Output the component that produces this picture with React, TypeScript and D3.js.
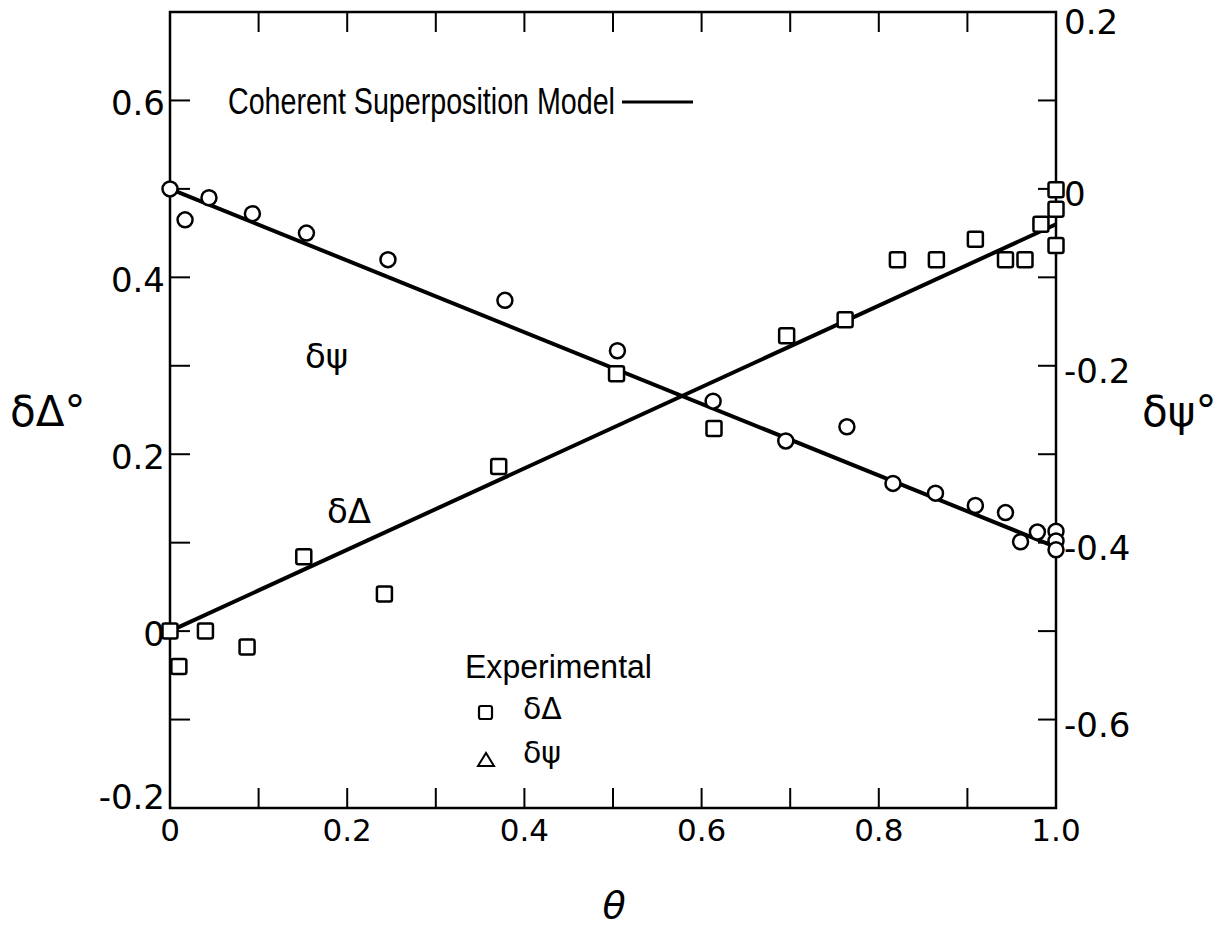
import React, { useRef, useEffect } from "react";
import * as d3 from "d3";

// delta-psi readings (right axis), circles
const psiTheta = [0, 0.017, 0.044, 0.093, 0.154, 0.246, 0.378, 0.505, 0.613, 0.695, 0.764, 0.816, 0.864, 0.909, 0.943, 0.96, 0.979, 1.0, 1.0, 1.0];
const psiValues = [0, -0.035, -0.01, -0.028, -0.05, -0.08, -0.126, -0.183, -0.24, -0.285, -0.269, -0.333, -0.344, -0.358, -0.366, -0.399, -0.388, -0.387, -0.398, -0.408];

// delta-Delta readings (left axis), squares
const deltaTheta = [0, 0.01, 0.04, 0.087, 0.151, 0.242, 0.371, 0.504, 0.614, 0.696, 0.762, 0.821, 0.865, 0.909, 0.943, 0.965, 0.983, 1.0, 1.0, 1.0];
const deltaValues = [0, -0.04, 0, -0.018, 0.084, 0.042, 0.186, 0.291, 0.229, 0.334, 0.352, 0.42, 0.42, 0.443, 0.42, 0.42, 0.46, 0.499, 0.477, 0.436];

// coherent superposition model (straight lines)
const modelTheta = [0, 1];
const modelDelta = [0, 0.46];
const modelPsi = [0, -0.405];

const xTicks = [0, 0.2, 0.4, 0.6, 0.8, 1.0];
const xTickLabels = ["0", "0.2", "0.4", "0.6", "0.8", "1.0"];
const leftTicks = [0.6, 0.4, 0.2, 0, -0.2];
const leftTickLabels = ["0.6", "0.4", "0.2", "0", "-0.2"];
const rightTicks = [0.2, 0, -0.2, -0.4, -0.6];
const rightTickLabels = ["0.2", "0", "-0.2", "-0.4", "-0.6"];

function App() {
  const ref = useRef<SVGSVGElement>(null);

  useEffect(() => {
    const svg = d3.select(ref.current);
    svg.selectAll("*").remove();

    const x0 = 170, x1 = 1056, yTop = 12, yBot = 808;
    const font = "'DejaVu Sans', sans-serif";

    const x = d3.scaleLinear().domain([0, 1]).range([x0, x1]);
    const yL = d3.scaleLinear().domain([-0.2, 0.7]).range([yBot, yTop]);
    const yR = d3.scaleLinear().domain([-0.7, 0.2]).range([yBot, yTop]);

    // frame
    svg.append("rect")
      .attr("x", x0).attr("y", yTop)
      .attr("width", x1 - x0).attr("height", yBot - yTop)
      .attr("fill", "none").attr("stroke", "#000").attr("stroke-width", 2.5);

    const tickLen = 20;
    const minor = d3.range(1, 10).map((i) => i / 10);
    // bottom and top ticks (inward)
    minor.forEach((t) => {
      svg.append("line").attr("x1", x(t)).attr("x2", x(t))
        .attr("y1", yBot).attr("y2", yBot - tickLen)
        .attr("stroke", "#000").attr("stroke-width", 2);
      svg.append("line").attr("x1", x(t)).attr("x2", x(t))
        .attr("y1", yTop).attr("y2", yTop + tickLen)
        .attr("stroke", "#000").attr("stroke-width", 2);
    });
    // left ticks
    d3.range(-1, 7).map((i) => i / 10).forEach((v) => {
      svg.append("line").attr("x1", x0).attr("x2", x0 + tickLen)
        .attr("y1", yL(v)).attr("y2", yL(v))
        .attr("stroke", "#000").attr("stroke-width", 2);
    });
    // right ticks
    d3.range(-6, 2).map((i) => i / 10).forEach((v) => {
      svg.append("line").attr("x1", x1).attr("x2", x1 - 18)
        .attr("y1", yR(v)).attr("y2", yR(v))
        .attr("stroke", "#000").attr("stroke-width", 2);
    });

    // tick labels
    svg.selectAll(".xl").data(xTicks).enter().append("text")
      .text((d, i) => xTickLabels[i])
      .attr("x", (d) => x(d)).attr("y", 841)
      .attr("text-anchor", "middle")
      .attr("font-family", font).attr("font-size", 31);

    svg.selectAll(".ll").data(leftTicks).enter().append("text")
      .text((d, i) => leftTickLabels[i])
      .attr("x", x0 - 5).attr("y", (d) => (d === -0.2 ? yL(d) + 1 : yL(d) + 15))
      .attr("text-anchor", "end")
      .attr("font-family", font).attr("font-size", 34);

    svg.selectAll(".rl").data(rightTicks).enter().append("text")
      .text((d, i) => rightTickLabels[i])
      .attr("x", x1 + 8).attr("y", (d) => (d === 0.2 ? yR(d) + 22 : yR(d) + 17))
      .attr("text-anchor", "start")
      .attr("font-family", font).attr("font-size", 34);

    // axis titles
    svg.append("text").text("δΔ°")
      .attr("x", 10).attr("y", 426)
      .attr("font-family", font).attr("font-size", 42);
    svg.append("text").text("δψ°")
      .attr("x", 1142).attr("y", 426)
      .attr("font-family", font).attr("font-size", 42);
    svg.append("text").text("θ")
      .attr("x", 614).attr("y", 918)
      .attr("text-anchor", "middle")
      .attr("font-family", font).attr("font-style", "italic").attr("font-size", 38);

    // model lines
    const lineL = d3.line<number>().x((d, i) => x(modelTheta[i])).y((d) => yL(d));
    const lineR = d3.line<number>().x((d, i) => x(modelTheta[i])).y((d) => yR(d));
    svg.append("path").datum(modelDelta).attr("d", lineL)
      .attr("fill", "none").attr("stroke", "#000").attr("stroke-width", 4);
    svg.append("path").datum(modelPsi).attr("d", lineR)
      .attr("fill", "none").attr("stroke", "#000").attr("stroke-width", 4);

    // circles (δψ)
    svg.selectAll(".pc").data(psiValues).enter().append("circle")
      .attr("cx", (d, i) => x(psiTheta[i]))
      .attr("cy", (d) => yR(d))
      .attr("r", 7.5)
      .attr("fill", "#fff").attr("stroke", "#000").attr("stroke-width", 2.5);

    // squares (δΔ)
    const s = 15;
    svg.selectAll(".ds").data(deltaValues).enter().append("rect")
      .attr("x", (d, i) => x(deltaTheta[i]) - s / 2)
      .attr("y", (d) => yL(d) - s / 2)
      .attr("width", s).attr("height", s).attr("rx", 2)
      .attr("fill", "#fff").attr("stroke", "#000").attr("stroke-width", 2.5);

    // curve labels
    svg.append("text").text("δψ")
      .attr("x", 305).attr("y", 368)
      .attr("font-family", font).attr("font-size", 34);
    svg.append("text").text("δΔ")
      .attr("x", 327).attr("y", 523)
      .attr("font-family", font).attr("font-size", 34);

    // model legend
    svg.append("text").text("Coherent Superposition Model")
      .attr("x", 228).attr("y", 114)
      .attr("textLength", 387).attr("lengthAdjust", "spacingAndGlyphs")
      .attr("font-family", "'Liberation Sans', sans-serif").attr("font-size", 36);
    svg.append("line").attr("x1", 622).attr("x2", 693)
      .attr("y1", 102).attr("y2", 102)
      .attr("stroke", "#000").attr("stroke-width", 3);

    // experimental legend
    svg.append("text").text("Experimental")
      .attr("x", 465).attr("y", 678)
      .attr("textLength", 187).attr("lengthAdjust", "spacingAndGlyphs")
      .attr("font-family", "'Liberation Sans', sans-serif").attr("font-size", 33);
    svg.append("rect").attr("x", 479).attr("y", 706).attr("width", 13).attr("height", 13)
      .attr("rx", 2).attr("fill", "none").attr("stroke", "#000").attr("stroke-width", 2.2);
    svg.append("text").text("δΔ")
      .attr("x", 523).attr("y", 719)
      .attr("font-family", font).attr("font-size", 30);
    svg.append("path").attr("d", "M478,766 L494,766 L486,753 Z")
      .attr("fill", "none").attr("stroke", "#000").attr("stroke-width", 2);
    svg.append("text").text("δψ")
      .attr("x", 523).attr("y", 763)
      .attr("font-family", font).attr("font-size", 30);
  }, []);

  return (
    <svg
      ref={ref}
      width={1225}
      height={934}
      style={{ position: "absolute", left: 0, top: 0, background: "#fff" }}
    />
  );
}

export default App;
